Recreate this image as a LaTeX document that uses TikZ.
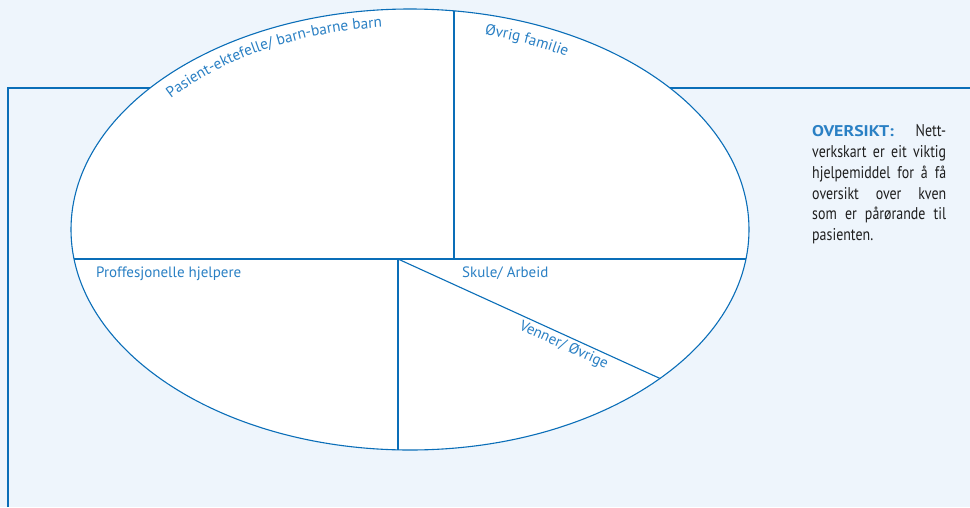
\documentclass[tikz,border=0pt]{standalone}
\usepackage{fontspec}
\setmainfont{PT Sans}
\newfontfamily\labelfont{PT Sans}
\newfontfamily\bodyfont[FakeStretch=0.82]{PT Sans}
\newfontfamily\headfont[FakeStretch=1.15]{PT Sans}
\usetikzlibrary{decorations.text}
\definecolor{bgblue}{HTML}{EEF5FC}
\definecolor{lineblue}{HTML}{0A6EB8}
\definecolor{txtblue}{HTML}{2A80C4}
\definecolor{bodyblack}{HTML}{1E1E1E}
\tikzset{
  frameline/.style={draw=lineblue, line width=2pt},
  ring/.style={draw=lineblue, line width=1.1pt, fill=white},
  divider/.style={draw=lineblue, line width=1.1pt},
  lbl/.style={font=\labelfont\fontsize{15}{17}\selectfont, text=txtblue, inner sep=0pt},
  bodyline/.style={font=\bodyfont\fontsize{17}{19}\selectfont, text=bodyblack, inner sep=0pt, anchor=base west},
  curved/.style={decorate, decoration={text along path, text color=txtblue, text align=left,
     text={|\labelfont\fontsize{15.3}{17}\selectfont|#1}}}
}
\begin{document}
\begin{tikzpicture}[x=1pt,y=1pt]
\fill[bgblue] (0,0) rectangle (970,-507);
\useasboundingbox (0,0) rectangle (970,-507);
% frame
\coordinate (fb) at (8,-507);
\coordinate (fc) at (8,-88);
\coordinate (fr) at (970,-88);
\draw[frameline, line join=miter] (fb) -- (fc) -- (fr);
% ellipse
\coordinate (C) at (410,-229.5);
\draw[ring] (C) ellipse [x radius=339, y radius=220.5];
\begin{scope}
\clip (C) ellipse [x radius=339, y radius=220.5];
\coordinate (hl) at (60,-259);
\coordinate (hr) at (760,-259);
\coordinate (vt) at (454,0);
\coordinate (vb) at (454,-259);
\coordinate (hub) at (398,-259);
\coordinate (bot) at (398,-460);
\coordinate (rim) at (663.4,-380);
\draw[divider] (hl) -- (hr);
\draw[divider] (vt) -- (vb);
\draw[divider] (hub) -- (bot);
\draw[divider] (hub) -- (rim);
\end{scope}
% labels
\path (hub) -- (rim) node[lbl, sloped, below=3pt, pos=0.64] (venner) {Venner/ Øvrige};
\node[lbl, anchor=base west] (prof) at (96,-277) {Proffesjonelle hjelpere};
\node[lbl, anchor=base west] (skule) at (462,-277) {Skule/ Arbeid};
\path[curved={Pasient-ektefelle/ barn-barne barn}] (C) ++(140:312 and 203) arc[start angle=140, end angle=80, x radius=312, y radius=203];
\path[curved={Øvrig familie}] (C) ++(76:308.5 and 200.7) arc[start angle=76, end angle=40, x radius=308.5, y radius=200.7];
% side text
\node[bodyline] (l1) at (812,-136) {\makebox[134pt][s]{{\headfont\fontsize{15.5}{17}\selectfont\bfseries\color{txtblue}OVERSIKT:} Nett-}};
\node[bodyline] (l2) at (812,-157) {\makebox[134pt][s]{verkskart er eit viktig}};
\node[bodyline] (l3) at (812,-178) {\makebox[134pt][s]{hjelpemiddel for å få}};
\node[bodyline] (l4) at (812,-199) {\makebox[134pt][s]{oversikt over kven}};
\node[bodyline] (l5) at (812,-219.5) {\makebox[134pt][s]{som er pårørande til}};
\node[bodyline] (l6) at (812,-240.5) {pasienten.};
\end{tikzpicture}
\end{document}
